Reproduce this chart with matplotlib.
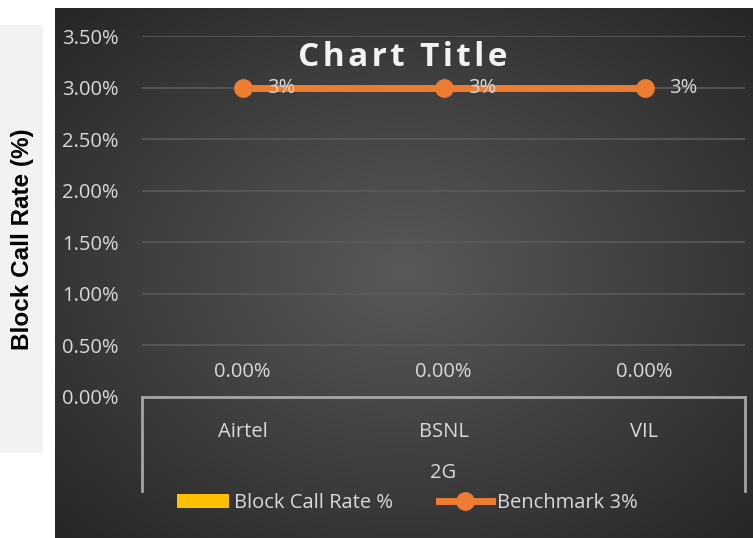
import numpy as np
import matplotlib
matplotlib.use("Agg")
import matplotlib.pyplot as plt
from matplotlib.lines import Line2D
from matplotlib.patches import Patch, Rectangle

categories = ["Airtel", "BSNL", "VIL"]
group_label = "2G"
block_call_rate = [0.0, 0.0, 0.0]
benchmark = [0.03, 0.03, 0.03]
bench_labels = ["3%", "3%", "3%"]
yticks = [0.0, 0.005, 0.01, 0.015, 0.02, 0.025, 0.03, 0.035]

W, H = 753, 538
FS = 14.5
TXT = "#d9d9d9"
fig = plt.figure(figsize=(W / 100, H / 100), dpi=100)
fig.patch.set_facecolor("white")

def fx(px):
    return px / W

def fy(py):
    return 1 - py / H

# left gray panel
fig.patches.append(Rectangle((fx(0), fy(453)), fx(43), (453 - 25) / H,
                             transform=fig.transFigure, facecolor="#f2f2f2",
                             edgecolor="none", zorder=0))
fig.text(fx(23), fy(239), "Block Call Rate (%)", rotation=90, ha="center", va="center",
         fontsize=17.5, fontweight="bold", color="black",
         family=["Liberation Sans Narrow", "Liberation Sans", "DejaVu Sans"])

# dark chart background with radial gradient
bg = fig.add_axes([fx(55), 0, fx(753 - 55), fy(8)], zorder=0)
bw, bh = 698, 530
xx, yy = np.meshgrid(np.linspace(-1, 1, bw), np.linspace(-1, 1, bh))
r = np.sqrt(xx ** 2 + yy ** 2) / np.sqrt(2)
val = 0.35 - 0.2 * r
img = np.dstack([val, val, val])
bg.imshow(img, aspect="auto", extent=[0, 1, 0, 1], interpolation="bilinear")
bg.set_axis_off()

# plot area
x0, x1, ytop, ybot = 142, 745, 36, 397
ax = fig.add_axes([fx(x0), fy(ybot), fx(x1 - x0), (ybot - ytop) / H], zorder=1)
ax.patch.set_alpha(0)
ax.set_xlim(-0.5, 2.5)
ax.set_ylim(0, 0.035)
x = np.arange(len(categories))

for yv in yticks[1:]:
    ax.axhline(yv, color="#5a5a5a", lw=1.2, zorder=1)

ax.bar(x, block_call_rate, width=0.5, color="#FFC000", zorder=2)
for xi, v in zip(x, block_call_rate):
    ax.text(xi, v + 0.00245, f"{v*100:.2f}%", ha="center", va="center",
            fontsize=FS, color=TXT, family="Open Sans")

ax.plot(x, benchmark, color="#ED7D31", lw=5, marker="o", markersize=12.5,
        solid_capstyle="round", zorder=3)
for xi, v, lab in zip(x, benchmark, bench_labels):
    ax.text(xi + 0.12, v, lab, ha="left", va="center", fontsize=FS,
            color=TXT, family="Open Sans", zorder=4)

ax.set_yticks(yticks)
ax.set_yticklabels([f"{v*100:.2f}%" for v in yticks], fontsize=FS,
                   color=TXT, family="Open Sans")
ax.tick_params(axis="y", length=0, pad=17)
ax.set_xticks([])
for s in ax.spines.values():
    s.set_visible(False)
ax.spines["bottom"].set_visible(True)
ax.spines["bottom"].set_color("#a6a6a6")
ax.spines["bottom"].set_linewidth(2)

# category labels and group box below axis
for xi, c in zip(x, categories):
    ax.text(xi, -0.0034, c, ha="center", va="center", fontsize=FS,
            color=TXT, family="Open Sans", clip_on=False)
ax.text(1, -0.0074, group_label, ha="center", va="center", fontsize=FS,
        color=TXT, family="Open Sans", clip_on=False)
for xb in (-0.5, 2.5):
    ax.add_line(Line2D([xb, xb], [0, -0.0091], color="#a6a6a6", lw=2,
                       clip_on=False))

# title
fig.text(fx(403), fy(57), "\u200a".join("Chart Title"), ha="center", va="center",
         fontsize=24, fontweight="bold", color="#f2f2f2", family="Open Sans")

# legend
handles = [Patch(facecolor="#FFC000", edgecolor="none"),
           Line2D([0], [0], color="#ED7D31", lw=5, marker="o", markersize=12.5)]
leg = fig.legend(handles, ["Block Call Rate %", "Benchmark 3%"], loc="center",
                 bbox_to_anchor=(fx(407), fy(503)), ncol=2, frameon=False,
                 prop={"family": "Open Sans", "size": FS}, handlelength=2.6,
                 handletextpad=0.25, columnspacing=2.3, handleheight=0.7)
for t in leg.get_texts():
    t.set_color(TXT)

fig.savefig("out.png", dpi=100)
